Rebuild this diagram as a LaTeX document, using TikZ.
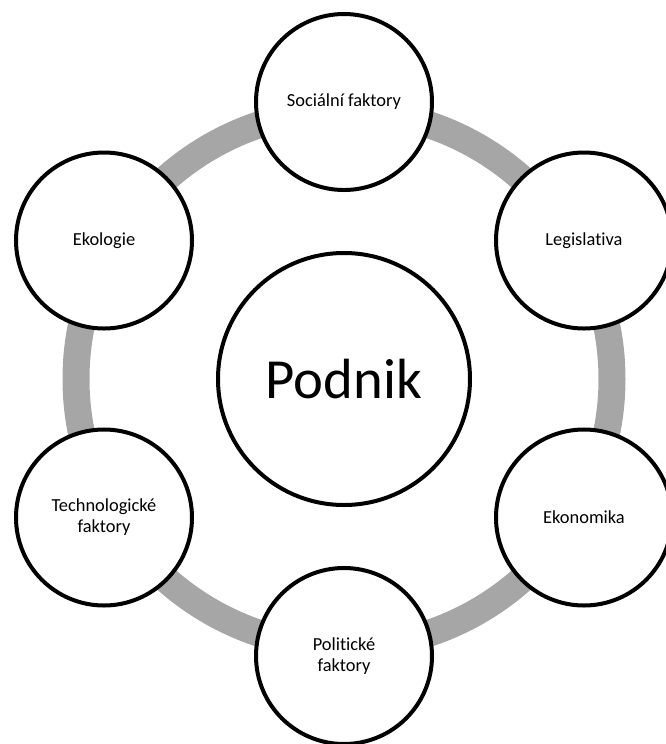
\documentclass[tikz,border=0pt]{standalone}
\usepackage{fontspec}
\setmainfont{Carlito}[Ligatures=NoCommon]
\definecolor{ringgray}{HTML}{A6A6A6}
\begin{document}
\begin{tikzpicture}[x=0.75pt,y=-0.75pt,
  factor/.style={circle,draw=black,line width=3pt,fill=white,minimum size=132pt,inner sep=0pt,
    align=center,font=\fontsize{13.8}{15.8}\selectfont},
  core/.style={circle,draw=black,line width=3pt,fill=white,minimum size=189pt,inner sep=0pt,
    font=\fontsize{42.5}{48}\selectfont},
  ring/.style={draw=ringgray,line width=20.25pt}]
\useasboundingbox (0,0) rectangle (666,744);
\clip (0,0) rectangle (666,744);
\fill[white] (0,0) rectangle (666,744);
\coordinate (ctr) at (344,379);
\draw[ring] (ctr) circle[radius=268];
\node[core] (podnik) at (ctr) {Podnik};
\node[factor] (soc) at (344,102) {Sociální faktory};
\node[factor] (leg) at (584,240.5) {Legislativa};
\node[factor] (eko) at (584,517.5) {Ekonomika};
\node[factor] (pol) at (344,656) {Politické\\faktory};
\node[factor] (tech) at (104,517.5) {Technologické\\faktory};
\node[factor] (ekol) at (104,240.5) {Ekologie};
\end{tikzpicture}
\end{document}
